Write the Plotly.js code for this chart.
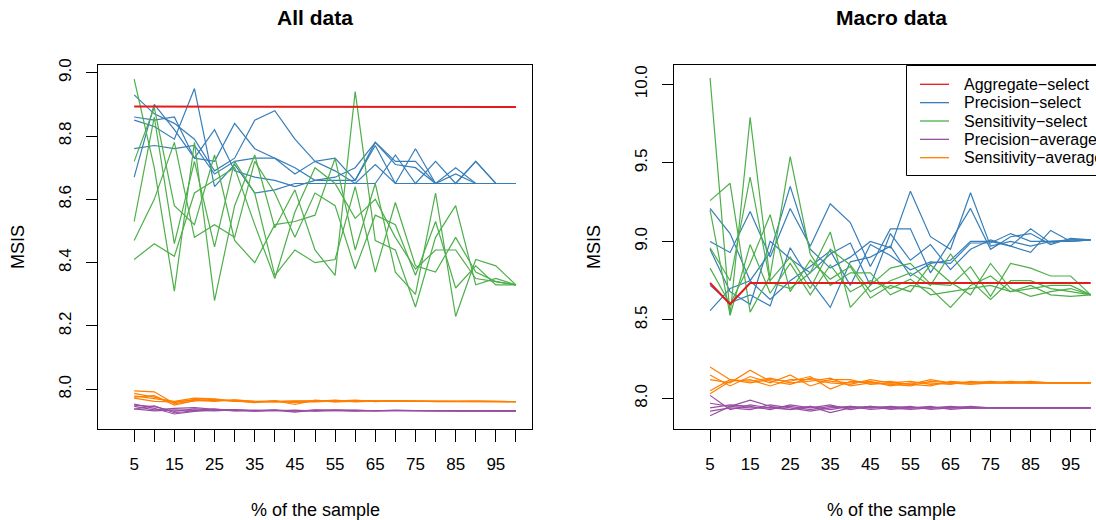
<!DOCTYPE html>
<html>
<head>
<meta charset="utf-8">
<script src="https://cdn.plot.ly/plotly-3.0.1.min.js"></script>
<style>html,body{margin:0;padding:0;background:#fff;}#chart{width:1096px;height:520px;}</style>
</head>
<body>
<div id="chart"></div>
<script>
// ---------------- data ----------------
const xPct = [5,10,15,20,25,30,35,40,45,50,55,60,65,70,75,80,85,90,95,100];
const xTickVals = [5,10,15,20,25,30,35,40,45,50,55,60,65,70,75,80,85,90,95,100];
const xTickText = ['5','','15','','25','','35','','45','','55','','65','','75','','85','','95',''];
const allYTicks = [8.0,8.2,8.4,8.6,8.8,9.0];
const macroYTicks = [8.0,8.5,9.0,9.5,10.0];
const seriesNames = ['Aggregate\u2212select','Precision\u2212select','Sensitivity\u2212select','Precision\u2212average','Sensitivity\u2212average'];
const seriesColors = ['#E41A1C','#377EB8','#4DAF4A','#984EA3','#FF7F00'];
const panelTitles = ['All data','Macro data'];

// All data
const allAggregate = [8.893,8.893,8.893,8.893,8.893,8.893,8.893,8.893,8.893,8.893,8.893,8.893,8.892,8.892,8.892,8.892,8.892,8.892,8.892,8.892];
const allPrecSel = [
  [8.93,8.87,8.84,8.79,8.69,8.73,8.85,8.88,8.79,8.72,8.73,8.66,8.78,8.72,8.72,8.65,8.65,8.65,8.65,8.65],
  [8.86,8.85,8.86,8.73,8.72,8.84,8.76,8.73,8.68,8.72,8.69,8.65,8.65,8.74,8.65,8.72,8.65,8.72,8.65,8.65],
  [8.85,8.83,8.79,8.95,8.64,8.71,8.62,8.63,8.65,8.65,8.65,8.65,8.71,8.65,8.65,8.65,8.70,8.65,8.65,8.65],
  [8.76,8.77,8.76,8.77,8.68,8.72,8.73,8.73,8.70,8.66,8.67,8.70,8.78,8.71,8.70,8.65,8.68,8.65,8.65,8.65],
  [8.67,8.90,8.82,8.73,8.82,8.69,8.67,8.66,8.64,8.66,8.66,8.66,8.77,8.65,8.76,8.65,8.65,8.72,8.65,8.65]
];
const allSensSel = [
  [8.98,8.70,8.31,8.78,8.28,8.58,8.74,8.51,8.63,8.44,8.36,8.94,8.47,8.44,8.26,8.48,8.58,8.33,8.35,8.33],
  [8.72,8.89,8.58,8.52,8.74,8.47,8.40,8.52,8.53,8.55,8.73,8.44,8.65,8.37,8.30,8.62,8.23,8.41,8.39,8.33],
  [8.53,8.86,8.46,8.72,8.45,8.72,8.62,8.36,8.44,8.40,8.41,8.64,8.37,8.59,8.39,8.37,8.48,8.37,8.34,8.33],
  [8.47,8.60,8.78,8.48,8.52,8.48,8.72,8.62,8.48,8.62,8.58,8.38,8.55,8.52,8.36,8.53,8.32,8.39,8.33,8.33],
  [8.41,8.46,8.42,8.62,8.66,8.70,8.52,8.35,8.56,8.70,8.65,8.54,8.60,8.48,8.38,8.44,8.44,8.35,8.34,8.33]
];
const allPrecAvg = [
  [7.953,7.940,7.922,7.930,7.935,7.936,7.932,7.934,7.928,7.935,7.933,7.933,7.934,7.933,7.933,7.932,7.932,7.932,7.932,7.932],
  [7.950,7.945,7.930,7.938,7.934,7.933,7.931,7.933,7.932,7.933,7.934,7.932,7.933,7.933,7.932,7.933,7.932,7.932,7.932,7.932],
  [7.946,7.935,7.940,7.942,7.937,7.934,7.933,7.932,7.934,7.931,7.932,7.934,7.932,7.934,7.933,7.932,7.933,7.932,7.932,7.932],
  [7.938,7.932,7.935,7.934,7.932,7.935,7.932,7.935,7.931,7.934,7.933,7.931,7.933,7.932,7.933,7.932,7.932,7.933,7.932,7.932],
  [7.937,7.948,7.926,7.933,7.938,7.932,7.934,7.933,7.933,7.932,7.935,7.933,7.932,7.933,7.932,7.932,7.932,7.932,7.932,7.932]
];
const allSensAvg = [
  [7.995,7.992,7.955,7.963,7.966,7.964,7.960,7.961,7.960,7.962,7.964,7.962,7.963,7.964,7.962,7.962,7.962,7.962,7.962,7.961],
  [7.987,7.975,7.958,7.968,7.964,7.966,7.962,7.963,7.958,7.963,7.966,7.960,7.963,7.962,7.963,7.961,7.962,7.962,7.961,7.961],
  [7.979,7.970,7.962,7.972,7.970,7.963,7.958,7.964,7.952,7.966,7.961,7.964,7.962,7.963,7.962,7.962,7.962,7.963,7.962,7.961],
  [7.972,7.962,7.960,7.966,7.962,7.967,7.962,7.960,7.963,7.960,7.963,7.966,7.961,7.964,7.963,7.962,7.961,7.962,7.962,7.961],
  [7.975,7.980,7.950,7.964,7.968,7.962,7.961,7.962,7.961,7.964,7.960,7.962,7.964,7.963,7.962,7.963,7.962,7.962,7.961,7.961]
];

// Macro data
const macroAggregate = [8.735,8.600,8.735,8.735,8.735,8.735,8.735,8.735,8.735,8.735,8.735,8.735,8.735,8.735,8.735,8.735,8.735,8.735,8.735,8.735];
const macroPrecSel = [
  [9.21,9.05,8.75,8.93,9.35,8.95,8.83,8.90,9.00,8.96,9.32,9.03,8.95,9.31,8.97,9.00,8.97,9.00,9.00,9.01],
  [9.00,8.93,9.19,8.90,9.21,8.97,9.24,9.12,8.84,9.08,9.08,8.80,9.00,9.21,8.95,9.03,9.05,8.98,9.02,9.01],
  [8.72,8.61,8.66,8.59,8.96,8.75,8.58,8.87,8.90,8.97,8.78,8.86,8.88,9.00,9.00,8.97,8.93,9.07,9.00,9.01],
  [8.56,8.70,8.75,8.63,8.75,8.84,8.94,8.72,8.98,8.91,8.82,8.87,8.86,8.99,8.99,9.05,9.00,9.00,9.01,9.01],
  [8.95,8.68,8.60,9.00,8.89,8.80,8.92,8.99,8.72,9.05,8.88,8.98,8.82,8.95,9.01,8.97,9.08,8.99,9.01,9.01]
];
const macroSensSel = [
  [10.04,8.53,9.79,8.75,8.90,8.70,8.95,8.85,8.68,8.75,8.80,8.72,8.92,8.75,8.63,8.75,8.75,8.70,8.68,8.66],
  [9.26,9.37,8.55,8.78,9.54,8.92,8.72,8.80,8.80,8.66,8.72,8.70,8.58,8.72,8.78,8.68,8.70,8.72,8.72,8.66],
  [8.96,8.75,9.41,8.74,8.70,8.80,9.06,8.58,8.72,8.83,8.86,8.73,8.72,8.84,8.65,8.86,8.83,8.78,8.78,8.66],
  [8.83,8.60,8.86,9.17,8.68,8.88,8.76,8.84,8.64,8.72,8.68,8.85,8.74,8.66,8.86,8.70,8.65,8.68,8.70,8.66],
  [9.20,8.53,8.98,8.67,8.86,8.66,8.85,8.68,8.75,8.70,8.76,8.66,8.68,8.70,8.72,8.68,8.72,8.66,8.65,8.66]
];
const macroPrecAvg = [
  [8.02,7.93,7.96,7.94,7.95,7.93,7.95,7.94,7.94,7.95,7.94,7.94,7.95,7.94,7.94,7.94,7.94,7.94,7.94,7.94],
  [7.97,7.95,7.99,7.95,7.93,7.95,7.93,7.95,7.93,7.94,7.95,7.93,7.94,7.94,7.94,7.94,7.94,7.94,7.94,7.94],
  [7.94,7.96,7.95,7.93,7.96,7.94,7.96,7.93,7.95,7.93,7.94,7.95,7.93,7.94,7.94,7.94,7.94,7.94,7.94,7.94],
  [7.92,7.94,7.93,7.96,7.94,7.92,7.94,7.95,7.94,7.94,7.93,7.94,7.94,7.94,7.94,7.94,7.94,7.94,7.94,7.94],
  [7.89,7.95,7.94,7.94,7.93,7.95,7.91,7.94,7.95,7.94,7.94,7.94,7.94,7.95,7.94,7.94,7.94,7.94,7.94,7.94]
];
const macroSensAvg = [
  [8.20,8.12,8.10,8.12,8.11,8.14,8.06,8.11,8.10,8.09,8.08,8.11,8.10,8.10,8.10,8.10,8.10,8.10,8.10,8.10],
  [8.15,8.08,8.14,8.10,8.15,8.08,8.12,8.12,8.09,8.10,8.09,8.08,8.11,8.10,8.11,8.10,8.10,8.10,8.10,8.10],
  [8.12,8.10,8.18,8.11,8.09,8.13,8.11,8.10,8.11,8.08,8.10,8.10,8.09,8.11,8.10,8.10,8.11,8.10,8.10,8.10],
  [8.05,8.12,8.11,8.13,8.10,8.11,8.13,8.08,8.10,8.11,8.09,8.12,8.10,8.10,8.10,8.11,8.10,8.10,8.10,8.10],
  [8.03,8.11,8.12,8.08,8.12,8.12,8.10,8.09,8.12,8.10,8.11,8.09,8.10,8.09,8.10,8.10,8.10,8.10,8.10,8.10]
];

// ---------------- build ----------------
const W = 1096, H = 520;
const FONT = 'Liberation Sans, Arial, Helvetica, sans-serif';
const traces = [];
function addGroup(list, color, width, xa, ya) {
  list.forEach(ys => traces.push({x: xPct, y: ys, type: 'scatter', mode: 'lines',
    line: {color: color, width: width}, xaxis: xa, yaxis: ya, hoverinfo: 'skip', showlegend: false}));
}
[[['x','y'], allPrecSel, allSensSel, allPrecAvg, allSensAvg, allAggregate],
 [['x2','y2'], macroPrecSel, macroSensSel, macroPrecAvg, macroSensAvg, macroAggregate]].forEach(p => {
  const [ax, ps, ss, pa, sa, ag] = p;
  addGroup(ps, seriesColors[1], 1.2, ax[0], ax[1]);
  addGroup(ss, seriesColors[2], 1.2, ax[0], ax[1]);
  addGroup(pa, seriesColors[3], 1.2, ax[0], ax[1]);
  addGroup(sa, seriesColors[4], 1.2, ax[0], ax[1]);
  addGroup([ag], seriesColors[0], 2, ax[0], ax[1]);
});

const px = v => v / W, py = v => 1 - v / H;
const yDom = [py(429), py(65)];
const tickFont = {family: FONT, size: 17, color: '#000'};
function xAxis(dom, range) {
  return {domain: dom, range: range, showgrid: false, zeroline: false, showline: true, mirror: true,
    linecolor: '#000', linewidth: 1, ticks: 'outside', ticklen: 12, tickwidth: 1, tickcolor: '#000',
    tickmode: 'array', tickvals: xTickVals, ticktext: xTickText, tickfont: tickFont, ticklabelstandoff: 8, fixedrange: true};
}
function yAxis(range, ticks, mirror, anchor) {
  return {domain: yDom, range: range, anchor: anchor, showgrid: false, zeroline: false, showline: true, mirror: mirror,
    linecolor: '#000', linewidth: 1, ticks: 'outside', ticklen: 11, tickwidth: 1, tickcolor: '#000',
    tickmode: 'array', tickvals: ticks, ticktext: ticks.map(t => t.toFixed(1)), tickangle: -90,
    tickfont: tickFont, ticklabelstandoff: 8, fixedrange: true};
}

const annotations = [];
const shapes = [];
const centers = [315, 891];
panelTitles.forEach((t, i) => {
  annotations.push({xref: 'paper', yref: 'paper', x: px(centers[i]), y: py(18), text: '<b>' + t + '</b>',
    showarrow: false, xanchor: 'center', yanchor: 'middle', font: {family: FONT, size: 21, color: '#000'}});
  annotations.push({xref: 'paper', yref: 'paper', x: px(centers[i]), y: py(510), text: '% of the sample',
    showarrow: false, xanchor: 'center', yanchor: 'middle', font: {family: FONT, size: 18, color: '#000'}});
});
[18, 594].forEach(xx => annotations.push({xref: 'paper', yref: 'paper', x: px(xx), y: py(247), text: 'MSIS',
  textangle: -90, showarrow: false, xanchor: 'center', yanchor: 'middle', font: {family: FONT, size: 18, color: '#000'}}));

// legend (manual, clipped at the right page edge like the reference)
shapes.push({type: 'rect', xref: 'paper', yref: 'paper', x0: px(906.5), x1: px(1110), y0: py(175.5), y1: py(65.5),
  line: {color: '#000', width: 1}, fillcolor: 'rgba(255,255,255,1)', layer: 'above'});
seriesNames.forEach((n, i) => {
  const yy = 84.3 + i * 18.35;
  shapes.push({type: 'line', xref: 'paper', yref: 'paper', x0: px(920), x1: px(949), y0: py(yy), y1: py(yy),
    line: {color: seriesColors[i], width: 1.3}, layer: 'above'});
  annotations.push({xref: 'paper', yref: 'paper', x: px(961.5), y: py(yy), text: n, showarrow: false,
    xanchor: 'left', yanchor: 'middle', font: {family: FONT, size: 16, color: '#000'}});
});

const layout = {
  width: W, height: H, margin: {l: 0, r: 0, t: 0, b: 0, autoexpand: false},
  paper_bgcolor: '#fff', plot_bgcolor: '#fff', showlegend: false,
  xaxis: xAxis([px(98), px(532)], [-4, 104]),
  yaxis: yAxis([7.8746, 9.0243], allYTicks, true, 'x'),
  xaxis2: xAxis([px(674), 1], [-4, -4 + (1096 - 674) / 4.007]),
  yaxis2: yAxis([7.806, 10.123], macroYTicks, false, 'x2'),
  annotations: annotations, shapes: shapes
};
layout.xaxis.anchor = 'y';
layout.xaxis2.anchor = 'y2';
Plotly.newPlot('chart', traces, layout, {staticPlot: true, displayModeBar: false});
</script>
</body>
</html>
